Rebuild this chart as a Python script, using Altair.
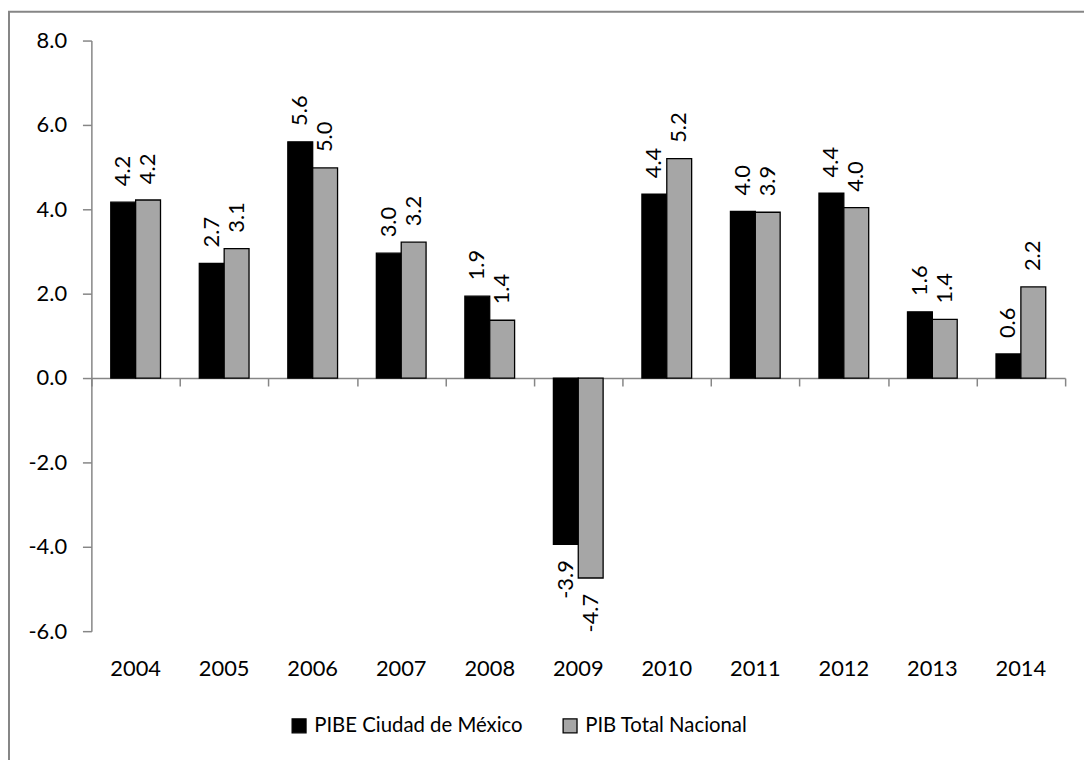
import altair as alt
import pandas as pd

years = ["2004", "2005", "2006", "2007", "2008", "2009", "2010", "2011", "2012", "2013", "2014"]
cdmx = [4.17, 2.72, 5.60, 2.96, 1.94, -3.94, 4.36, 3.95, 4.38, 1.57, 0.57]
nacional = [4.22, 3.07, 4.98, 3.22, 1.37, -4.74, 5.20, 3.93, 4.04, 1.39, 2.16]
series = ["PIBE Ciudad de México", "PIB Total Nacional"]
colors = ["#000000", "#a6a6a6"]
y_ticks = [-6, -4, -2, 0, 2, 4, 6, 8]

rows = []
for i, yr in enumerate(years):
    rows.append({"year": yr, "serie": series[0], "value": cdmx[i]})
    rows.append({"year": yr, "serie": series[1], "value": nacional[i]})
df = pd.DataFrame(rows)

FONT = "Lato"
FS = 22
GRAY = "#868686"

W, H = 981, 595

xscale = alt.Scale(domain=years, paddingInner=0, paddingOuter=0)
xoff = alt.XOffset("serie:N", sort=series,
                   scale=alt.Scale(domain=series, paddingInner=0, paddingOuter=0.78))
yscale = alt.Scale(domain=[-6, 8], nice=False, zero=False)

base = alt.Chart(df).transform_calculate(
    lab="replace(format(datum.value, '.1f'), '\u2212', '-')"
)

bars = base.mark_bar(stroke="black", strokeWidth=1.3).encode(
    x=alt.X("year:N", scale=xscale, sort=years,
            axis=alt.Axis(title=None, orient="bottom", domain=False, ticks=False,
                          labelAngle=0, labelPadding=28, labelFont=FONT,
                          labelFontSize=FS, labelColor="black")),
    xOffset=xoff,
    y=alt.Y("value:Q", scale=yscale,
            axis=alt.Axis(title=None, values=y_ticks, grid=False,
                          labelExpr="replace(format(datum.value, '.1f'), '\u2212', '-')",
                          domainColor=GRAY, domainWidth=1.5, tickColor=GRAY,
                          tickWidth=1.5, tickSize=9, labelPadding=16,
                          labelFont=FONT, labelFontSize=FS, labelColor="black")),
    color=alt.Color("serie:N", sort=series,
                    scale=alt.Scale(domain=series, range=colors),
                    legend=alt.Legend(title=None, orient="none", direction="horizontal",
                                      legendX=199, legendY=680, padding=0,
                                      symbolType="square", symbolSize=196,
                                      symbolStrokeColor="black", symbolStrokeWidth=1.3,
                                      labelFont=FONT, labelFontSize=20.5, labelLimit=0,
                                      labelColor="black", labelOffset=5,
                                      columnPadding=37)),
)

zero_axis = base.mark_text(opacity=0).encode(
    x=alt.X("year:N", scale=xscale, sort=years,
            axis=alt.Axis(title=None, labels=False, domain=True, domainColor=GRAY,
                          domainWidth=1.5, ticks=True, tickBand="extent",
                          tickColor=GRAY, tickWidth=1.5, tickSize=8,
                          offset=-255, orient="bottom")),
    y=alt.Y("value:Q", scale=yscale),
)

pos_text = base.transform_filter("datum.value >= 0").mark_text(
    angle=270, align="left", baseline="middle", dx=16,
    font=FONT, fontSize=FS, color="black"
).encode(
    x=alt.X("year:N", scale=xscale, sort=years, axis=None),
    xOffset=xoff,
    y=alt.Y("value:Q", scale=yscale),
    text=alt.Text("lab:N"),
)

neg_text = base.transform_filter("datum.value < 0").mark_text(
    angle=270, align="right", baseline="middle", dx=-16,
    font=FONT, fontSize=FS, color="black"
).encode(
    x=alt.X("year:N", scale=xscale, sort=years, axis=None),
    xOffset=xoff,
    y=alt.Y("value:Q", scale=yscale),
    text=alt.Text("lab:N"),
)

frame = alt.Chart(alt.Data(values=[{"a": 1}])).mark_rect(
    fill="transparent", stroke=GRAY, strokeWidth=2
).encode(
    x=alt.value(-83), x2=alt.value(1200),
    y=alt.value(-29), y2=alt.value(900),
)

chart = alt.layer(zero_axis, bars, pos_text, neg_text, frame).resolve_axis(
    x="independent"
).properties(
    width=W, height=H,
    autosize=alt.AutoSizeParams(type="none"),
    padding={"left": 84, "top": 30, "right": 19, "bottom": 127},
).configure_view(stroke=None)

chart.save("out.html", embed_options={"renderer": "svg", "actions": False})
